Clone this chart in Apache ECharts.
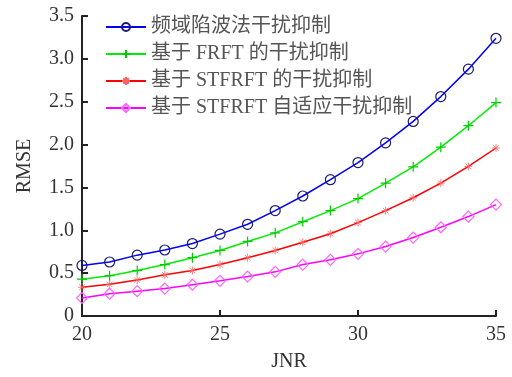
<!DOCTYPE html>
<html><head><meta charset="utf-8">
<script src="https://cdn.jsdelivr.net/npm/echarts@6/dist/echarts.min.js"></script>
<style>html,body{margin:0;padding:0;background:#fff}#c{width:512px;height:377px}</style>
</head><body><div id="c"></div>
<script>
const jnr = [20,21,22,23,24,25,26,27,28,29,30,31,32,33,34,35];
const notchSeries = [0.59,0.63,0.71,0.77,0.845,0.955,1.07,1.23,1.40,1.59,1.79,2.02,2.27,2.56,2.88,3.24];
const frftSeries = [0.43,0.47,0.53,0.60,0.68,0.765,0.87,0.97,1.10,1.23,1.37,1.55,1.74,1.97,2.22,2.49];
const stfrftSeries = [0.335,0.37,0.42,0.48,0.53,0.60,0.68,0.765,0.86,0.96,1.09,1.23,1.38,1.55,1.745,1.96];
const adaptSeries = [0.21,0.26,0.29,0.32,0.365,0.41,0.46,0.515,0.60,0.655,0.725,0.81,0.915,1.035,1.16,1.30];
const names = ['频域陷波法干扰抑制','基于 FRFT 的干扰抑制','基于 STFRFT 的干扰抑制','基于 STFRFT 自适应干扰抑制'];
const yTicks = [0,0.5,1.0,1.5,2.0,2.5,3.0,3.5];

const serif = "'Liberation Serif', 'Times New Roman', serif";
const mixed = "'Liberation Serif', 'Noto Sans CJK SC', serif";
const plus = 'path://M5,0L5,10M0,5L10,5';
const star = 'path://M5,0L5,10M0,5L10,5M1.5,1.5L8.5,8.5M8.5,1.5L1.5,8.5';

function mk(name, data, color, symbol, symColor, size, bw) {
  return {
    name, type: 'line', data: jnr.map((x,i)=>[x,data[i]]),
    symbol, symbolSize: size, showSymbol: true,
    lineStyle: {color, width: 1.5},
    itemStyle: {color: 'rgba(0,0,0,0)', borderColor: symColor, borderWidth: bw},
    color: color,
    emphasis: {disabled: true}, animation: false
  };
}

const chart = echarts.init(document.getElementById('c'));
chart.setOption({
  animation: false,
  backgroundColor: '#fff',
  grid: {left: 82, right: 16, top: 16, bottom: 56.5},
  legend: {
    orient: 'vertical', left: 100, top: 12, itemGap: 7,
    itemWidth: 40, itemHeight: 10,
    textStyle: {fontFamily: mixed, fontSize: 20, color: '#555'},
    data: names
  },
  xAxis: {
    type: 'value', min: 20, max: 35, interval: 5,
    name: 'JNR', nameLocation: 'middle', nameGap: 36,
    nameTextStyle: {fontFamily: serif, fontSize: 20, color: '#333'},
    axisLine: {show: true, lineStyle: {color: '#222', width: 2}},
    axisTick: {show: true, inside: true, length: 6, lineStyle: {color: '#222', width: 2}},
    axisLabel: {fontFamily: serif, fontSize: 20, color: '#333', margin: 9},
    splitLine: {show: false}
  },
  yAxis: {
    type: 'value', min: 0, max: 3.5, interval: 0.5,
    name: 'RMSE', nameLocation: 'middle', nameGap: 47,
    nameTextStyle: {fontFamily: serif, fontSize: 20, color: '#333'},
    axisLine: {show: true, lineStyle: {color: '#222', width: 2}},
    axisTick: {show: true, inside: true, length: 6, lineStyle: {color: '#222', width: 2}},
    axisLabel: {fontFamily: serif, fontSize: 20, color: '#333', margin: 8,
      formatter: v => { const t = yTicks.find(k => Math.abs(k-v)<1e-9); return t===0 ? '0' : (t!==undefined ? t.toFixed(1) : ''); }},
    splitLine: {show: false}
  },
  series: [
    mk(names[0], notchSeries, '#0000ff', 'circle', '#1a1a70', 10, 1.2),
    mk(names[1], frftSeries, '#00ee00', plus, '#00cc00', 10, 1.2),
    mk(names[2], stfrftSeries, '#ff0000', star, '#ff6060', 8, 0.8),
    mk(names[3], adaptSeries, '#ff00ff', 'diamond', '#ff66ff', 11, 1.2)
  ]
});
</script></body></html>
